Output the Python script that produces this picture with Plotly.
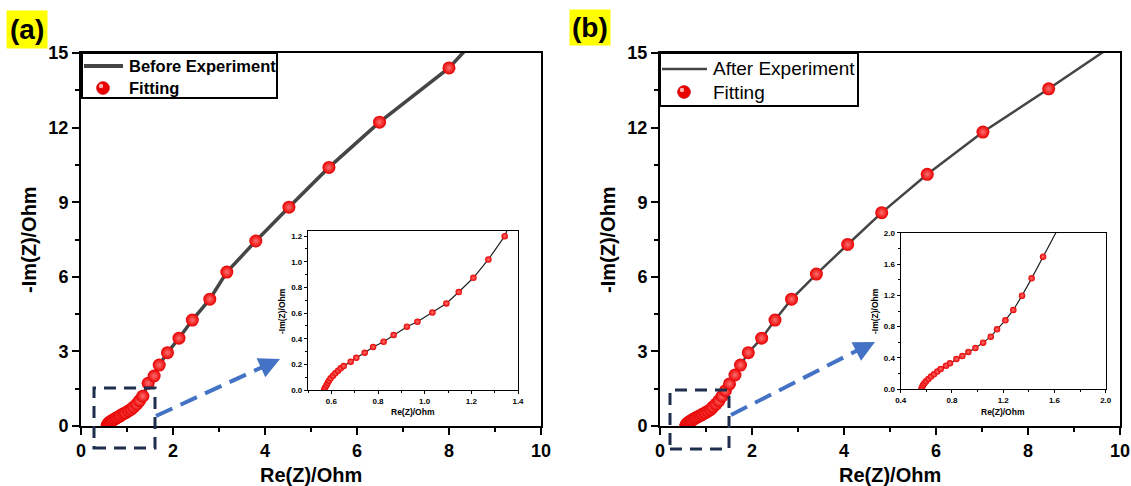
import plotly.graph_objects as go

# ---------------- data ----------------
# (a) Before experiment: fitting points (Re, -Im)
fit_a_re = [0.569, 0.573, 0.579, 0.584, 0.590, 0.597, 0.607, 0.617, 0.629, 0.640, 0.653,
            0.683, 0.707, 0.743, 0.779, 0.824, 0.867, 0.924, 0.969, 1.033, 1.093, 1.146,
            1.209, 1.273, 1.343, 1.46, 1.59, 1.70, 1.88, 2.13, 2.42, 2.80, 3.17, 3.80,
            4.52, 5.39, 6.49, 8.00]
fit_a_im = [0.0, 0.018, 0.036, 0.055, 0.073, 0.091, 0.112, 0.130, 0.151, 0.169, 0.187,
            0.221, 0.252, 0.291, 0.335, 0.377, 0.429, 0.494, 0.532, 0.605, 0.675, 0.764,
            0.875, 1.018, 1.20, 1.72, 2.01, 2.45, 2.95, 3.53, 4.26, 5.10, 6.19, 7.44,
            8.80, 10.40, 12.22, 14.40]
# (a) experimental curve (continues past the last fitted point)
exp_a_re = fit_a_re + [8.40]
exp_a_im = fit_a_im + [15.2]

# (b) After experiment: fitting points
fit_b_re = [0.561, 0.567, 0.574, 0.585, 0.598, 0.616, 0.637, 0.660, 0.686, 0.712, 0.754,
            0.785, 0.835, 0.881, 0.928, 0.983, 1.043, 1.103, 1.152, 1.217, 1.279, 1.347,
            1.422, 1.511, 1.63, 1.75, 1.92, 2.21, 2.50, 2.86, 3.40, 4.08, 4.82, 5.81,
            7.02, 8.45]
fit_b_im = [0.0, 0.026, 0.051, 0.077, 0.102, 0.132, 0.162, 0.191, 0.226, 0.260, 0.302,
            0.332, 0.387, 0.426, 0.477, 0.528, 0.596, 0.672, 0.766, 0.881, 1.013, 1.196,
            1.417, 1.694, 2.05, 2.45, 2.95, 3.53, 4.26, 5.10, 6.11, 7.30, 8.58, 10.12,
            11.82, 13.56]
exp_b_re = fit_b_re + [9.76]
exp_b_im = fit_b_im + [15.2]

main_x_ticks = [0, 2, 4, 6, 8, 10]
main_y_ticks = [0, 3, 6, 9, 12, 15]

FONT = "Arial, Liberation Sans, sans-serif"
W, H = 1131, 486


def px(x):
    return x / W


def py(y):
    return 1 - y / H


fig = go.Figure()

RED = "#e80000"
HL = "#ff7070"


def add_pair(xa, ya, re_line, im_line, re_fit, im_fit, lw, msize, line_name, lcolor):
    fig.add_trace(go.Scatter(
        x=re_line, y=im_line, mode="lines", name=line_name,
        line=dict(color=lcolor, width=lw), xaxis=xa, yaxis=ya,
        showlegend=False, cliponaxis=True))
    fig.add_trace(go.Scatter(
        x=re_fit, y=im_fit, mode="markers", name="Fitting",
        marker=dict(color=RED, size=msize, line=dict(width=0),
                    gradient=dict(type="radial", color=HL)),
        xaxis=xa, yaxis=ya, showlegend=False, cliponaxis=True))


add_pair("x", "y", exp_a_re, exp_a_im, fit_a_re, fit_a_im, 3.5, 13, "Before Experiment", "#454545")
add_pair("x2", "y2", exp_a_re, exp_a_im, fit_a_re, fit_a_im, 1.2, 6.5, "Before Experiment", "#222222")
add_pair("x3", "y3", exp_b_re, exp_b_im, fit_b_re, fit_b_im, 2.5, 13, "After Experiment", "#454545")
add_pair("x4", "y4", exp_b_re, exp_b_im, fit_b_re, fit_b_im, 1.2, 6.5, "After Experiment", "#222222")

main_axis = dict(showgrid=False, zeroline=False, showline=True, linecolor="black",
                 linewidth=2, mirror=True, ticks="outside", ticklen=7, tickwidth=2,
                 tickcolor="black",
                 tickfont=dict(family=FONT, size=18, color="black", weight="bold"))
inset_axis = dict(showgrid=False, zeroline=False, showline=True, linecolor="black",
                  linewidth=1.3, mirror=True, ticks="outside", ticklen=3, tickwidth=1,
                  tickcolor="black", tickformat=".1f",
                  tickfont=dict(family=FONT, size=8, color="black", weight="bold"))
main_minor_x = dict(dtick=1, ticks="outside", ticklen=4, tickwidth=2, tickcolor="black")
main_minor_y = dict(dtick=1.5, ticks="outside", ticklen=4, tickwidth=2, tickcolor="black")

fig.update_layout(
    width=W, height=H,
    margin=dict(l=0, r=0, t=0, b=0, autoexpand=False),
    paper_bgcolor="white", plot_bgcolor="white", showlegend=False,
    xaxis=dict(main_axis, domain=[px(81), px(541)], range=[0, 10], tickvals=main_x_ticks,
               minor=main_minor_x, anchor="y"),
    yaxis=dict(main_axis, domain=[py(426), py(53)], range=[0, 15], tickvals=main_y_ticks,
               minor=main_minor_y, anchor="x"),
    xaxis3=dict(main_axis, domain=[px(660), px(1120)], range=[0, 10], tickvals=main_x_ticks,
                minor=main_minor_x, anchor="y3"),
    yaxis3=dict(main_axis, domain=[py(426), py(53)], range=[0, 15], tickvals=main_y_ticks,
                minor=main_minor_y, anchor="x3"),
    xaxis2=dict(inset_axis, domain=[px(308), px(518)], range=[0.5, 1.4], dtick=0.2, tick0=0.6,
                minor=dict(dtick=0.1, ticks="outside", ticklen=2, tickcolor="black"),
                anchor="y2"),
    yaxis2=dict(inset_axis, domain=[py(390), py(231)], range=[0, 1.24], dtick=0.2,
                minor=dict(dtick=0.1, ticks="outside", ticklen=2, tickcolor="black"),
                anchor="x2"),
    xaxis4=dict(inset_axis, domain=[px(900.7), px(1105.7)], range=[0.4, 2.0], dtick=0.4,
                minor=dict(dtick=0.2, ticks="outside", ticklen=2, tickcolor="black"),
                anchor="y4"),
    yaxis4=dict(inset_axis, domain=[py(389.3), py(232.7)], range=[0, 2.0], dtick=0.4,
                minor=dict(dtick=0.2, ticks="outside", ticklen=2, tickcolor="black"),
                anchor="x4"),
)

ann = []


def text(x, y, s, size, bold=True, angle=0, xanchor="center", **kw):
    ann.append(dict(x=px(x), y=py(y), xref="paper", yref="paper", text=s, showarrow=False,
                    textangle=angle, xanchor=xanchor, yanchor="middle",
                    font=dict(family=FONT, size=size, color="black",
                              weight="bold" if bold else "normal"), **kw))


# axis titles
text(311, 475, "Re(Z)/Ohm", 20)
text(890, 475, "Re(Z)/Ohm", 20)
text(29, 240, "-Im(Z)/Ohm", 20, angle=-90)
text(608, 240, "-Im(Z)/Ohm", 20, angle=-90)
# inset titles
text(413, 412, "Re(Z)/Ohm", 8.5)
text(1003, 412, "Re(Z)/Ohm", 8.5)
text(282, 311, "-Im(Z)/Ohm", 8.5, angle=-90)
text(875, 311, "-Im(Z)/Ohm", 8.5, angle=-90)
# panel labels
text(27, 29, "(a)", 28, bgcolor="#ffff00", borderpad=3)
text(590, 27, "(b)", 28, bgcolor="#ffff00", borderpad=2)

# legend texts
text(127, 66, "Before Experiment", 16.5, xanchor="left")
text(127, 88, "Fitting", 16.5, xanchor="left")
text(711, 69, "After Experiment", 19, bold=False, xanchor="left")
text(711, 93, "Fitting", 19, bold=False, xanchor="left")

# arrow heads
BLUE = "#4472c4"
for (x0, y0, x1, y1) in [(156, 416, 280, 359), (731, 415, 875, 342)]:
    dx, dy = x1 - x0, y1 - y0
    L = (dx * dx + dy * dy) ** 0.5
    ux, uy = dx / L, dy / L
    ann.append(dict(x=px(x1), y=py(y1), xref="paper", yref="paper", showarrow=True,
                    ax=-ux * 14, ay=-uy * 14, axref="pixel", ayref="pixel",
                    arrowhead=2, arrowsize=1.2, arrowwidth=3.5, arrowcolor=BLUE, text=""))

fig.update_layout(annotations=ann)

shapes = []
NAVY = "#1e2f4d"
for (x0, y0, x1, y1) in [(94, 388, 155, 448), (670, 390, 729, 449)]:
    shapes.append(dict(type="rect", xref="paper", yref="paper",
                       x0=px(x0), x1=px(x1), y0=py(y1), y1=py(y0),
                       line=dict(color=NAVY, width=3, dash="12px,8px")))
for (x0, y0, x1, y1) in [(156, 416, 270, 363.5), (731, 415, 864, 347)]:
    shapes.append(dict(type="line", xref="paper", yref="paper",
                       x0=px(x0), y0=py(y0), x1=px(x1), y1=py(y1),
                       line=dict(color=BLUE, width=4, dash="18px,9px")))

# legend boxes (frame, line sample, sphere sample)
for (bx0, by0, bx1, by1, lx0, lx1, ly, lw, cx, cy) in [
        (82, 53, 277, 98, 84, 123, 66, 4, 103, 88),
        (660, 53, 858, 106, 662, 707, 69, 2.5, 684, 92)]:
    shapes.append(dict(type="rect", xref="paper", yref="paper",
                       x0=px(bx0), x1=px(bx1), y0=py(by1), y1=py(by0),
                       fillcolor="white", line=dict(color="black", width=2)))
    shapes.append(dict(type="line", xref="paper", yref="paper",
                       x0=px(lx0), x1=px(lx1), y0=py(ly), y1=py(ly),
                       line=dict(color="#454545", width=lw)))
    r = 6.5
    shapes.append(dict(type="circle", xref="paper", yref="paper",
                       x0=px(cx - r), x1=px(cx + r), y0=py(cy + r), y1=py(cy - r),
                       fillcolor=RED, line=dict(color="#c00000", width=0.5)))
    r2 = 2.2
    shapes.append(dict(type="circle", xref="paper", yref="paper",
                       x0=px(cx - 2 - r2), x1=px(cx - 2 + r2), y0=py(cy - 2 + r2), y1=py(cy - 2 - r2),
                       fillcolor="#ffb0b0", line=dict(width=0)))
fig.update_layout(shapes=shapes)

fig.write_html("out.html")
